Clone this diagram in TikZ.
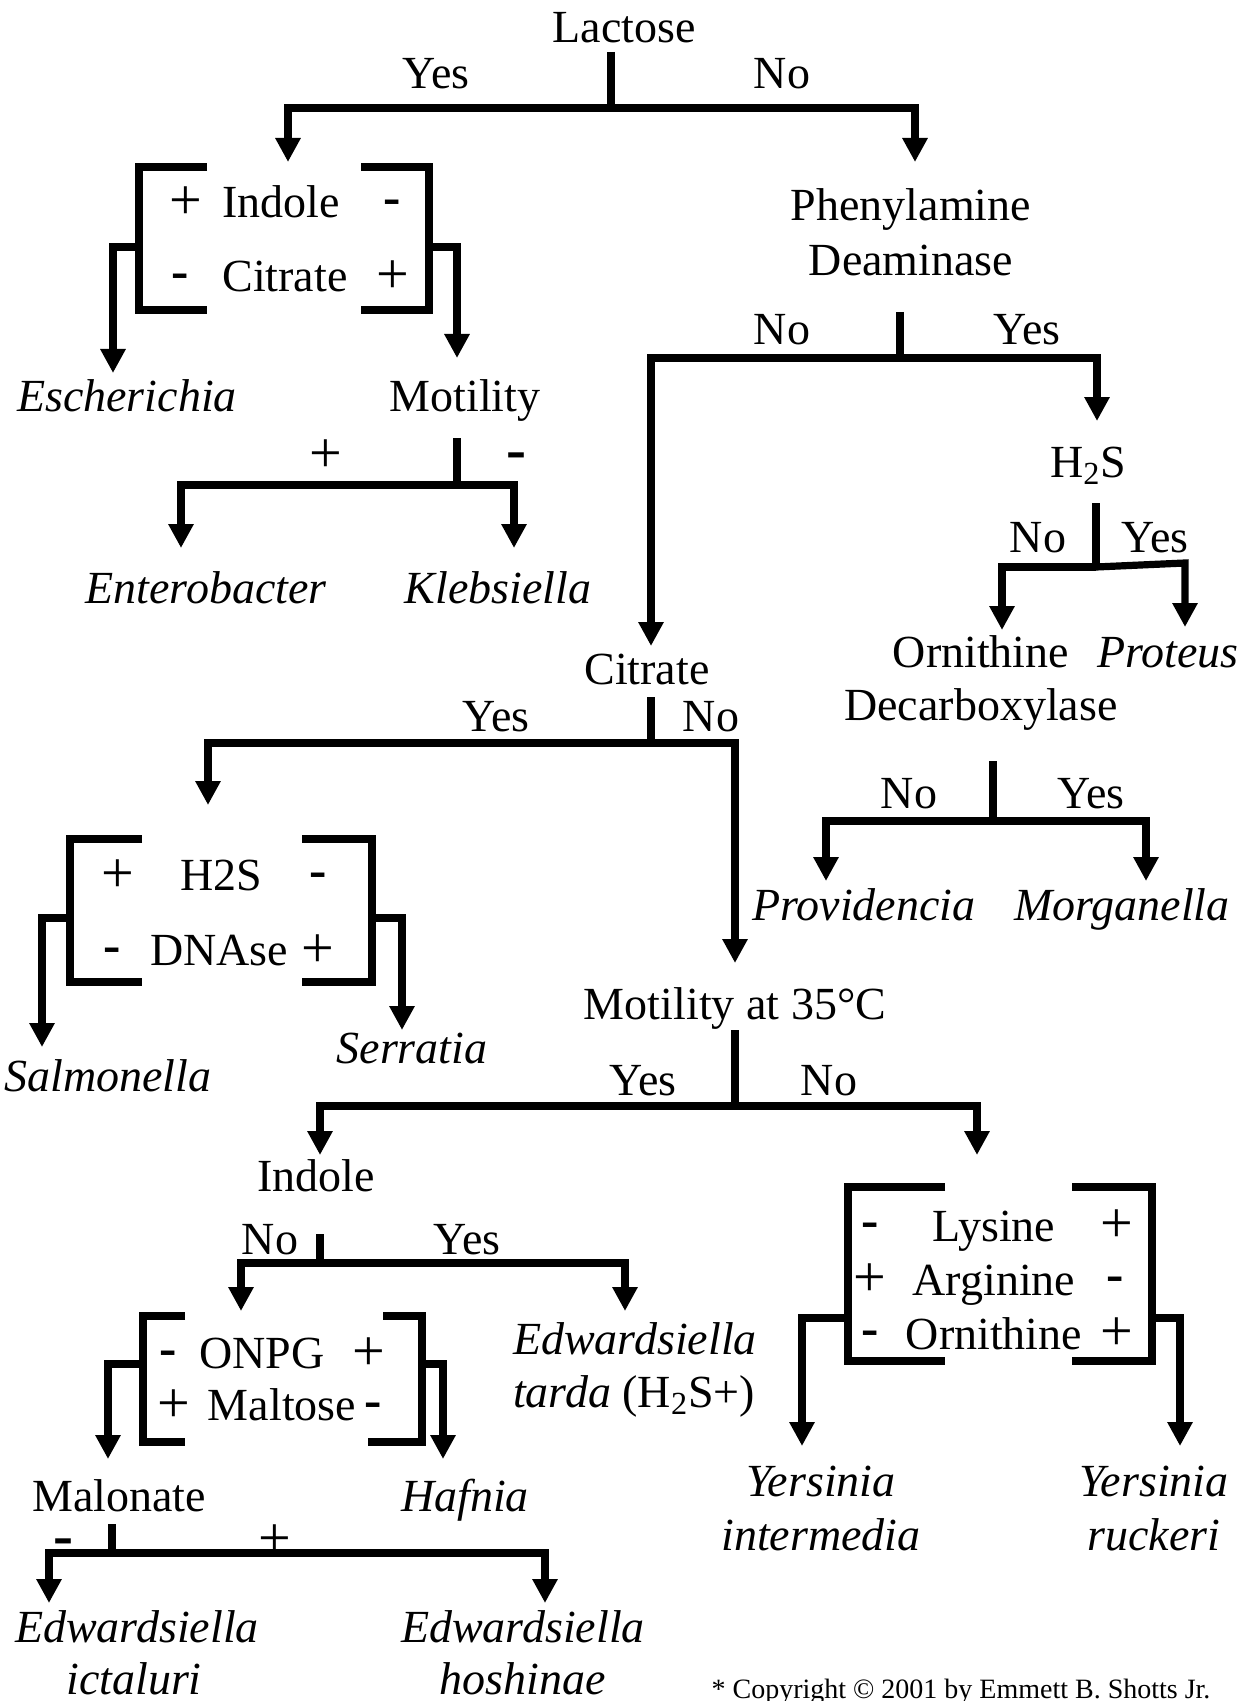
\documentclass[tikz,border=0pt]{standalone}
\usepackage{fontspec}
\setmainfont{Liberation Serif}
\usetikzlibrary{arrows.meta}
\begin{document}
\begin{tikzpicture}[x=0.5pt,y=-0.5pt,
  lbl/.style={inner sep=0pt,anchor=base,font=\fontsize{23}{27}\selectfont},
  spc/.style={lbl,font=\fontsize{23}{27}\selectfont\itshape},
  psgn/.style={lbl,yshift=-1pt,font=\fontsize{29}{33}\selectfont},
  msgn/.style={lbl,yshift=1.5pt,font=\fontsize{26}{30}\selectfont\bfseries},
  bsgn/.style={lbl,font=\fontsize{30}{34}\selectfont\bfseries},
  ln/.style={line width=3.6pt},
  br/.style={line width=3.6pt,line join=miter},
  ar/.style={line width=3.6pt,-{Triangle[length=12pt,width=12pt]}},
  note/.style={inner sep=0pt,anchor=base,font=\fontsize{14}{16}\selectfont}]
\useasboundingbox (0,0) rectangle (1245,1701);

% ---------------- Lactose
\node[lbl] (lactose) at (624,43) {Lactose};
\coordinate (lacS) at (611,52);
\coordinate (lacJ) at (611,108);
\coordinate (lacL) at (288,162);
\coordinate (lacR) at (915,162);
\draw[ln] (lacS) -- (lacJ);
\draw[ar] (lacJ) -| (lacL);
\draw[ar] (lacJ) -| (lacR);
\node[lbl] (lacyes) at (436,89) {Yes};
\node[lbl] (lacno) at (782,89) {No};

% ---------------- Box 1: Indole / Citrate
\draw[br] (207,167) -- (139,167) -- (139,310) -- (207,310);
\draw[br] (361,167) -- (429,167) -- (429,310) -- (361,310);
\node[psgn] (b1a) at (186,218) {+};
\node[lbl,anchor=base west] (b1indole) at (222,218) {Indole};
\node[msgn] (b1b) at (392,218) {-};
\node[msgn] (b1c) at (180,292) {-};
\node[lbl,anchor=base west] (b1citrate) at (222,292) {Citrate};
\node[psgn] (b1d) at (393,292) {+};
\coordinate (b1L) at (139,247);
\coordinate (b1R) at (429,247);
\coordinate (b1Lt) at (113,373);
\coordinate (b1Rt) at (457,358);
\draw[ar] (b1L) -| (b1Lt);
\draw[ar] (b1R) -| (b1Rt);
\node[spc] (esch) at (127,411) {Escherichia};
\node[lbl] (moti) at (465,411) {Motility};

% ---------------- Motility
\coordinate (motS) at (457,438);
\coordinate (motJ) at (457,485);
\coordinate (motL) at (181,548);
\coordinate (motR) at (514,548);
\draw[ln] (motS) -- (motJ);
\draw[ar] (motJ) -| (motL);
\draw[ar] (motJ) -| (motR);
\node[psgn] (motp) at (326,470) {+};
\node[bsgn] (motm) at (516,469) {-};
\node[spc] (entero) at (206,603) {Enterobacter};
\node[spc] (kleb) at (498,603) {Klebsiella};

% ---------------- Phenylamine Deaminase
\node[lbl] (pda) at (911,221) {Phenylamine};
\node[lbl] (pdb) at (911,276) {Deaminase};
\coordinate (pdS) at (900,312);
\coordinate (pdJ) at (900,358);
\coordinate (pdL) at (651,646);
\coordinate (pdR) at (1097,421);
\draw[ln] (pdS) -- (pdJ);
\draw[ar] (pdJ) -| (pdL);
\draw[ar] (pdJ) -| (pdR);
\node[lbl] (pdno) at (782,344) {No};
\node[lbl] (pdyes) at (1027,344) {Yes};

% ---------------- H2S (right)
\node[lbl] (hs) at (1088,477) {H\textsubscript{2}S};
\coordinate (hsS) at (1096,503);
\coordinate (hsJ) at (1096,567);
\coordinate (hsK) at (1185,563);
\coordinate (hsL) at (1002,630);
\coordinate (hsR) at (1185,627);
\draw[ln] (hsS) -- (hsJ);
\draw[ar] (hsJ) -| (hsL);
\draw[ar] (hsJ) -- (hsK) -- (hsR);
\node[lbl] (hsno) at (1038,552) {No};
\node[lbl] (hsyes) at (1155,552) {Yes};
\node[lbl] (orna) at (981,667) {Ornithine};
\node[lbl] (ornb) at (981,720) {Decarboxylase};
\node[spc] (prot) at (1168,667) {Proteus};

% ---------------- Ornithine Decarboxylase
\coordinate (odS) at (993,761);
\coordinate (odJ) at (993,821);
\coordinate (odL) at (826,881);
\coordinate (odR) at (1146,881);
\draw[ln] (odS) -- (odJ);
\draw[ar] (odJ) -| (odL);
\draw[ar] (odJ) -| (odR);
\node[lbl] (odno) at (909,808) {No};
\node[lbl] (odyes) at (1091,808) {Yes};
\node[spc] (prov) at (864,920) {Providencia};
\node[spc] (morg) at (1122,920) {Morganella};

% ---------------- Citrate
\node[lbl] (cit) at (647,684) {Citrate};
\coordinate (citS) at (651,697);
\coordinate (citJ) at (651,743);
\coordinate (citL) at (208,805);
\coordinate (citR) at (735,963);
\draw[ln] (citS) -- (citJ);
\draw[ar] (citJ) -| (citL);
\draw[ar] (citJ) -| (citR);
\node[lbl] (cityes) at (496,731) {Yes};
\node[lbl] (citno) at (711,731) {No};

% ---------------- Box 2: H2S / DNAse
\draw[br] (142,839) -- (70,839) -- (70,982) -- (142,982);
\draw[br] (302,839) -- (372,839) -- (372,982) -- (302,982);
\node[psgn] (b2a) at (118,890) {+};
\node[lbl] (b2h) at (221,890) {H2S};
\node[msgn] (b2b) at (318,890) {-};
\node[msgn] (b2c) at (112,965) {-};
\node[lbl] (b2d) at (219,965) {DNAse};
\node[psgn] (b2e) at (318,965) {+};
\coordinate (b2L) at (70,918);
\coordinate (b2R) at (372,918);
\coordinate (b2Lt) at (42,1047);
\coordinate (b2Rt) at (402,1030);
\draw[ar] (b2L) -| (b2Lt);
\draw[ar] (b2R) -| (b2Rt);
\node[spc] (salm) at (108,1091) {Salmonella};
\node[spc] (serr) at (412,1063) {Serratia};

% ---------------- Motility at 35 C
\node[lbl] (m35) at (735,1019) {Motility at 35°C};
\coordinate (m35S) at (735,1030);
\coordinate (m35J) at (735,1106);
\coordinate (m35L) at (320,1155);
\coordinate (m35R) at (977,1155);
\draw[ln] (m35S) -- (m35J);
\draw[ar] (m35J) -| (m35L);
\draw[ar] (m35J) -| (m35R);
\node[lbl] (m35yes) at (643,1095) {Yes};
\node[lbl] (m35no) at (829,1095) {No};

% ---------------- Indole (lower)
\node[lbl] (ind) at (316,1191) {Indole};
\coordinate (indS) at (320,1234);
\coordinate (indJ) at (320,1263);
\coordinate (indL) at (241,1311);
\coordinate (indR) at (625,1311);
\draw[ln] (indS) -- (indJ);
\draw[ar] (indJ) -| (indL);
\draw[ar] (indJ) -| (indR);
\node[lbl] (indno) at (270,1254) {No};
\node[lbl] (indyes) at (467,1254) {Yes};
\node[spc] (tarda1) at (635,1354) {Edwardsiella};
\node[lbl] (tarda2) at (634,1407) {\itshape tarda\upshape{} (H\textsubscript{2}S+)};

% ---------------- Box 3: ONPG / Maltose
\draw[br] (185,1316) -- (143,1316) -- (143,1442) -- (185,1442);
\draw[br] (383,1316) -- (422,1316) -- (422,1442) -- (368,1442);
\node[msgn] (b3a) at (168,1368) {-};
\node[lbl] (b3o) at (262,1368) {ONPG};
\node[psgn] (b3b) at (369,1368) {+};
\node[psgn] (b3c) at (174,1420) {+};
\node[lbl] (b3m) at (282,1420) {Maltose};
\node[msgn] (b3d) at (373,1420) {-};
\coordinate (b3L) at (143,1364);
\coordinate (b3R) at (422,1364);
\coordinate (b3Lt) at (108,1459);
\coordinate (b3Rt) at (443,1459);
\draw[ar] (b3L) -| (b3Lt);
\draw[ar] (b3R) -| (b3Rt);
\node[lbl] (malo) at (119,1511) {Malonate};
\node[spc] (hafn) at (465,1511) {Hafnia};

% ---------------- Malonate
\coordinate (malS) at (112,1524);
\coordinate (malJ) at (112,1553);
\coordinate (malL) at (49,1603);
\coordinate (malR) at (545,1603);
\draw[ln] (malS) -- (malJ);
\draw[ar] (malJ) -| (malL);
\draw[ar] (malJ) -| (malR);
\node[bsgn] (malm) at (63,1555) {-};
\node[psgn] (malp) at (275,1555) {+};
\node[spc] (icta1) at (137,1642) {Edwardsiella};
\node[spc] (icta2) at (134,1694) {ictaluri};
\node[spc] (hosh1) at (523,1642) {Edwardsiella};
\node[spc] (hosh2) at (523,1694) {hoshinae};

% ---------------- Box 4: Lysine / Arginine / Ornithine
\draw[br] (945,1187) -- (848,1187) -- (848,1361) -- (945,1361);
\draw[br] (1072,1187) -- (1152,1187) -- (1152,1361) -- (1072,1361);
\node[msgn] (b4a) at (870,1240) {-};
\node[lbl] (b4l) at (994,1241) {Lysine};
\node[psgn] (b4b) at (1117,1240) {+};
\node[psgn] (b4c) at (870,1294) {+};
\node[lbl] (b4r) at (994,1295) {Arginine};
\node[msgn] (b4d) at (1115,1294) {-};
\node[msgn] (b4e) at (870,1348) {-};
\node[lbl] (b4o) at (994,1349) {Ornithine};
\node[psgn] (b4f) at (1117,1348) {+};
\coordinate (b4L) at (848,1318);
\coordinate (b4R) at (1152,1318);
\coordinate (b4Lt) at (802,1446);
\coordinate (b4Rt) at (1180,1446);
\draw[ar] (b4L) -| (b4Lt);
\draw[ar] (b4R) -| (b4Rt);
\node[spc] (yint1) at (821,1496) {Yersinia};
\node[spc] (yint2) at (821,1550) {intermedia};
\node[spc] (yruc1) at (1154,1496) {Yersinia};
\node[spc] (yruc2) at (1154,1550) {ruckeri};

% ---------------- Copyright
\node[note] (copy) at (961,1698) {* Copyright © 2001 by Emmett B. Shotts Jr.};
\end{tikzpicture}
\end{document}
